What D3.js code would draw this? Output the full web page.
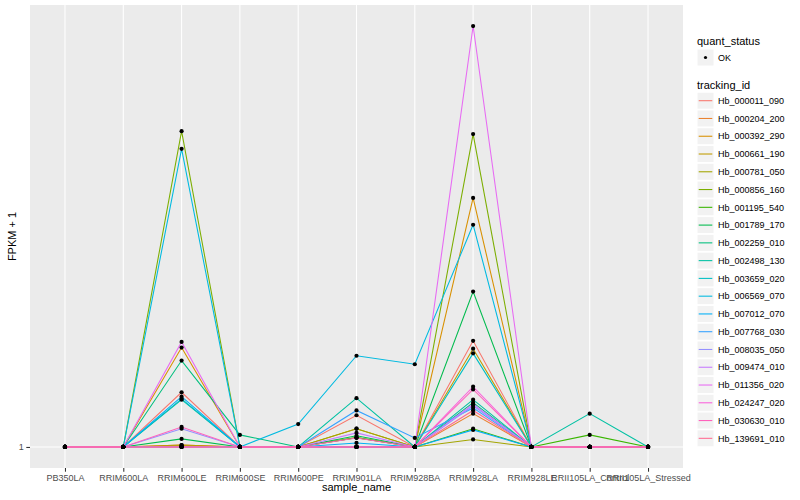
<!DOCTYPE html>
<html>
<head>
<meta charset="utf-8">
<script src="https://cdn.jsdelivr.net/npm/d3@7"></script>
<style>
  body { margin: 0; background: #fff; }
  svg { font-family: "Liberation Sans", Arial, sans-serif; }
</style>
</head>
<body>
<svg id="chart" width="800" height="500"></svg>
<script>
// samples on the x axis
var samples = ["PB350LA", "RRIM600LA", "RRIM600LE", "RRIM600SE", "RRIM600PE", "RRIM901LA",
    "RRIM928BA", "RRIM928LA", "RRIM928LE", "RRII105LA_Control", "RRII105LA_Stressed"];

var trackingIds = ["Hb_000011_090", "Hb_000204_200", "Hb_000392_290", "Hb_000661_190", "Hb_000781_050",
    "Hb_000856_160", "Hb_001195_540", "Hb_001789_170", "Hb_002259_010", "Hb_002498_130",
    "Hb_003659_020", "Hb_006569_070", "Hb_007012_070", "Hb_007768_030", "Hb_008035_050",
    "Hb_009474_010", "Hb_011356_020", "Hb_024247_020", "Hb_030630_010", "Hb_139691_010"];

// FPKM + 1, one row per tracking id, one value per sample
var fpkm = [
    [1, 1, 1.33, 1, 1, 1.18, 1, 1.74, 1, 1, 1],
    [1, 1, 1.01, 1, 1, 1.05, 1, 1.19, 1, 1, 1],
    [1, 1, 1.68, 1, 1, 1, 1, 3.67, 1, 1, 1],
    [1, 1, 1.01, 1, 1, 1.10, 1, 1.67, 1, 1, 1],
    [1, 1, 1.005, 1, 1, 1.10, 1, 1.04, 1, 1, 1],
    [1, 1, 5.20, 1, 1, 1, 1, 5.12, 1, 1, 1],
    [1, 1, 1, 1, 1, 1.05, 1, 1.10, 1, 1.065, 1],
    [1, 1, 1.043, 1, 1, 1.06, 1, 2.25, 1, 1, 1],
    [1, 1, 1.57, 1.065, 1, 1, 1, 1.26, 1, 1, 1],
    [1, 1, 1.28, 1, 1, 1.29, 1, 1.28, 1, 1.19, 1],
    [1, 1, 1.285, 1, 1, 1, 1, 1.63, 1, 1, 1],
    [1, 1, 4.74, 1, 1.127, 1.61, 1.54, 3.19, 1, 1, 1],
    [1, 1, 1.30, 1, 1, 1.021, 1, 1.093, 1, 1, 1],
    [1, 1, 1, 1, 1, 1.21, 1.048, 1.226, 1, 1, 1],
    [1, 1, 1.10, 1, 1, 1, 1, 1.24, 1, 1, 1],
    [1, 1, 1, 1, 1, 1.076, 1, 1.25, 1, 1, 1],
    [1, 1, 1.73, 1, 1, 1, 1, 9.0, 1, 1, 1],
    [1, 1, 1, 1, 1, 1, 1, 1.37, 1, 1, 1],
    [1, 1, 1.11, 1, 1, 1.048, 1, 1.35, 1, 1, 1],
    [1, 1, 1, 1, 1, 1, 1, 1.21, 1, 1, 1]
];

var yTicks = [1];

// ggplot default hue palette for 20 levels
var colors = ["#F8766D", "#EA8331", "#D89000", "#C09B00", "#A3A500", "#7CAE00", "#39B600", "#00BB4E",
    "#00BF7D", "#00C1A3", "#00BFC4", "#00BAE0", "#00B0F6", "#35A2FF", "#9590FF", "#C77CFF",
    "#E76BF3", "#FA62DB", "#FF62BC", "#FF6C91"];

var panel = { left: 30, right: 683, top: 5, bottom: 468 };

var svg = d3.select("#chart");

var xScale = d3.scalePoint()
    .domain(samples)
    .range([panel.left, panel.right])
    .padding(0.6);

// log10 scale with 5% expansion on both ends, like ggplot
var maxVal = d3.max(fpkm, function (row) { return d3.max(row); });
var L = Math.log10(maxVal);
var yScale = d3.scaleLog()
    .domain([Math.pow(10, -0.05 * L), Math.pow(10, 1.05 * L)])
    .range([panel.bottom, panel.top]);

// panel background + grid
svg.append("rect")
    .attr("x", panel.left).attr("y", panel.top)
    .attr("width", panel.right - panel.left).attr("height", panel.bottom - panel.top)
    .style("fill", "#EBEBEB");

svg.append("g").selectAll("line")
    .data(samples)
    .enter().append("line")
    .attr("x1", function (d) { return xScale(d); })
    .attr("x2", function (d) { return xScale(d); })
    .attr("y1", panel.top).attr("y2", panel.bottom)
    .style("stroke", "#fff").style("stroke-width", 1.07);

svg.append("g").selectAll("line")
    .data(yTicks)
    .enter().append("line")
    .attr("x1", panel.left).attr("x2", panel.right)
    .attr("y1", function (d) { return yScale(d); })
    .attr("y2", function (d) { return yScale(d); })
    .style("stroke", "#fff").style("stroke-width", 1.07);

// axes
var xAxis = svg.append("g")
    .attr("transform", "translate(0," + panel.bottom + ")")
    .call(d3.axisBottom(xScale).tickSize(3.7).tickPadding(2.5));
var yAxis = svg.append("g")
    .attr("transform", "translate(" + panel.left + ",0)")
    .call(d3.axisLeft(yScale).tickValues(yTicks).tickFormat(d3.format("d")).tickSize(3.7).tickPadding(2.5));
[xAxis, yAxis].forEach(function (ax) {
    ax.select(".domain").remove();
    ax.selectAll(".tick line").style("stroke", "#333333").style("stroke-width", 1.07);
    ax.selectAll(".tick text").style("fill", "#4D4D4D").style("font-size", "9px")
        .style("font-family", "'Liberation Sans', Arial, sans-serif");
});

svg.append("text")
    .attr("x", (panel.left + panel.right) / 2)
    .attr("y", 491)
    .attr("text-anchor", "middle")
    .style("font-size", "11px")
    .text("sample_name");

svg.append("text")
    .attr("transform", "translate(16," + ((panel.top + panel.bottom) / 2) + ") rotate(-90)")
    .attr("text-anchor", "middle")
    .style("font-size", "11px")
    .text("FPKM + 1");

// lines
var line = d3.line()
    .x(function (d, i) { return xScale(samples[i]); })
    .y(function (d) { return yScale(d); });

svg.append("g").selectAll("path")
    .data(fpkm)
    .enter().append("path")
    .attr("d", line)
    .style("fill", "none")
    .style("stroke", function (d, i) { return colors[i]; })
    .style("stroke-width", 1.07);

// points
var points = [];
fpkm.forEach(function (row) {
    row.forEach(function (v, j) { points.push({ s: samples[j], v: v }); });
});
svg.append("g").selectAll("circle")
    .data(points)
    .enter().append("circle")
    .attr("cx", function (d) { return xScale(d.s); })
    .attr("cy", function (d) { return yScale(d.v); })
    .attr("r", 2.1)
    .style("fill", "#000");

// legends
var lg = svg.append("g").attr("transform", "translate(697,0)");
lg.append("text").attr("x", 0).attr("y", 45).style("font-size", "11px").text("quant_status");
lg.append("rect").attr("x", 0).attr("y", 49).attr("width", 17).attr("height", 17)
    .style("fill", "#F2F2F2").style("stroke", "#fff");
lg.append("circle").attr("cx", 8.5).attr("cy", 57.5).attr("r", 1.6).style("fill", "#000");
lg.append("text").attr("x", 21).attr("y", 60.5).style("font-size", "9px").text("OK");

lg.append("text").attr("x", 0).attr("y", 89).style("font-size", "11px").text("tracking_id");
var keyStep = 17.77;
var keys = lg.selectAll(".key")
    .data(trackingIds)
    .enter().append("g")
    .attr("class", "key")
    .attr("transform", function (d, i) { return "translate(0," + (100.7 + i * keyStep) + ")"; });
keys.append("rect").attr("x", 0).attr("y", -8.5).attr("width", 17).attr("height", 17)
    .style("fill", "#F2F2F2").style("stroke", "#fff");
keys.append("line").attr("x1", 1.7).attr("x2", 15.3).attr("y1", 0).attr("y2", 0)
    .style("stroke", function (d, i) { return colors[i]; }).style("stroke-width", 1.07);
keys.append("text").attr("x", 21).attr("y", 3.2).style("font-size", "9px")
    .text(function (d) { return d; });
</script>
</body>
</html>
